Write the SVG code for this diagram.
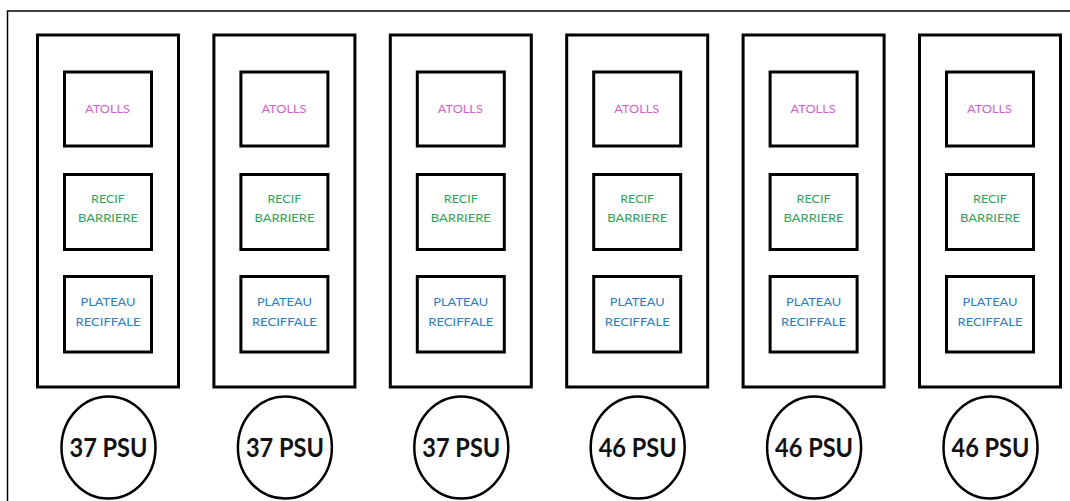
<svg xmlns="http://www.w3.org/2000/svg" width="1070" height="501" viewBox="0 0 1070 501">
<style>
.frame{fill:none;stroke:#000;stroke-width:1.5}
.col{fill:#fff;stroke:#000;stroke-width:3}
.box{fill:#fff;stroke:#000;stroke-width:3}
.psu{fill:#fff;stroke:#000;stroke-width:2.5}
.t{font-family:Lato,"Liberation Sans",sans-serif;font-size:11px;text-anchor:middle}
.pink{fill:#cf62cf}
.green{fill:#2ea35c}
.blue{fill:#2d7dbf}
.big{font-family:Lato,"Liberation Sans",sans-serif;font-size:26.5px;font-weight:bold;text-anchor:middle;fill:#111}
</style>
<defs>
<g id="column">
<rect class="col" x="0" y="35" width="141" height="352"/>
<rect class="box" x="27" y="72" width="87" height="74"/>
<text class="t pink" x="70" y="113" textLength="45" lengthAdjust="spacingAndGlyphs">ATOLLS</text>
<rect class="box" x="27" y="174.5" width="87" height="75"/>
<text class="t green" x="70.5" y="203" textLength="34" lengthAdjust="spacingAndGlyphs">RECIF</text>
<text class="t green" x="70.5" y="222.3" textLength="60" lengthAdjust="spacingAndGlyphs">BARRIERE</text>
<rect class="box" x="27" y="276.5" width="87" height="75.5"/>
<text class="t blue" x="70.5" y="306" textLength="55" lengthAdjust="spacingAndGlyphs">PLATEAU</text>
<text class="t blue" x="70.5" y="325.5" textLength="65" lengthAdjust="spacingAndGlyphs">RECIFFALE</text>
<ellipse class="psu" cx="71" cy="447.5" rx="47" ry="51"/>
</g>
</defs>
<rect width="1070" height="501" fill="#fff"/>
<path class="frame" d="M7.5,501 V11 H1070"/>
<g id="col1" transform="translate(37.5,0)"><use href="#column"/><text class="big" x="71" y="457" textLength="78" lengthAdjust="spacingAndGlyphs">37 PSU</text></g>
<g id="col2" transform="translate(213.9,0)"><use href="#column"/><text class="big" x="71" y="457" textLength="78" lengthAdjust="spacingAndGlyphs">37 PSU</text></g>
<g id="col3" transform="translate(390.3,0)"><use href="#column"/><text class="big" x="71" y="457" textLength="78" lengthAdjust="spacingAndGlyphs">37 PSU</text></g>
<g id="col4" transform="translate(566.7,0)"><use href="#column"/><text class="big" x="71" y="457" textLength="78" lengthAdjust="spacingAndGlyphs">46 PSU</text></g>
<g id="col5" transform="translate(743.1,0)"><use href="#column"/><text class="big" x="71" y="457" textLength="78" lengthAdjust="spacingAndGlyphs">46 PSU</text></g>
<g id="col6" transform="translate(919.5,0)"><use href="#column"/><text class="big" x="71" y="457" textLength="78" lengthAdjust="spacingAndGlyphs">46 PSU</text></g>
<g id="connectors"/>
</svg>
